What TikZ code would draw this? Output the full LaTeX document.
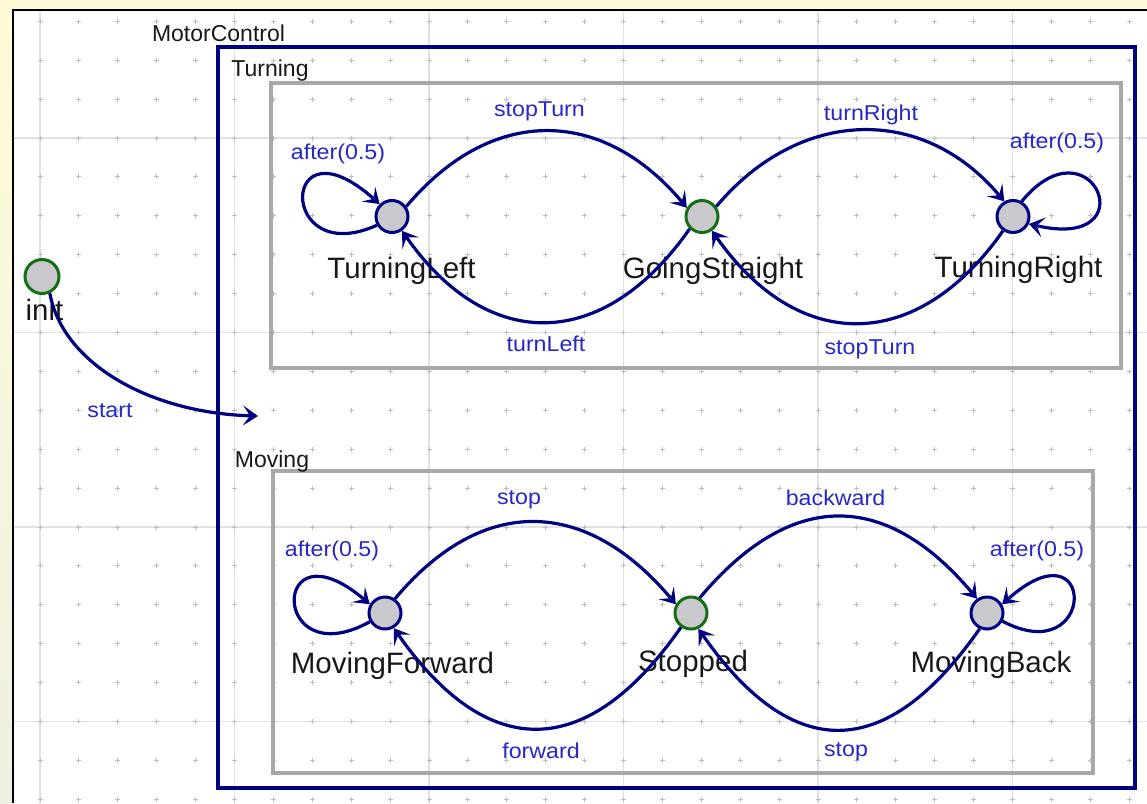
\documentclass[tikz,border=0pt]{standalone}
\usepackage{fontspec}
\setmainfont{Liberation Sans}
\newfontfamily\lblfont[FakeStretch=1.08]{Liberation Sans}
\usetikzlibrary{arrows.meta}
\definecolor{navy}{RGB}{0,0,128}
\definecolor{stfill}{RGB}{200,200,205}
\definecolor{igreen}{RGB}{20,110,20}
\definecolor{tblue}{RGB}{40,40,200}
\definecolor{stext}{RGB}{25,25,25}
\definecolor{boxgrey}{RGB}{168,168,168}
\definecolor{gridline}{RGB}{226,226,226}
\definecolor{crossc}{RGB}{190,190,190}
\definecolor{bgyellow}{RGB}{255,250,215}
\definecolor{bgbeige}{RGB}{240,240,226}
\tikzset{
  statelbl/.style={anchor=base, text=stext, font=\fontsize{29.5}{30}\selectfont, inner sep=0pt},
  trlbl/.style={anchor=base, text=tblue, font=\lblfont\fontsize{21.5}{22}\selectfont, inner sep=0pt},
  boxlbl/.style={anchor=base, text=stext, font=\fontsize{23}{24}\selectfont, inner sep=0pt},
  stnode/.style={circle, draw=navy, fill=stfill, line width=3pt, minimum size=32pt, inner sep=0pt},
  initnode/.style={stnode, draw=igreen},
  tr/.style={draw=navy, line width=3.2pt, -{Stealth[length=15pt,width=20pt,inset=7pt]}},
  outerbox/.style={draw=navy, line width=3.2pt},
  innerbox/.style={draw=boxgrey, line width=3.2pt},
  crossmark/.style={draw=crossc, line width=1pt},
  gridmajor/.style={draw=gridline, line width=1.2pt}
}
\begin{document}
\begin{tikzpicture}[x=1pt,y=1pt]
\useasboundingbox (0,0) rectangle (1147,-803);
% background
\fill[bgyellow] (0,0) rectangle (1147,-803);
\shade[top color=bgyellow, bottom color=bgbeige] (0,-10) rectangle (13,-803);
\fill[white] (13,-10) rectangle (1147,-803);
\draw[black, line width=2.2pt] (13,-803) -- (13,-10) -- (1147,-10);
% major grid lines
\foreach \m in {0,...,5} { \draw[gridmajor] ({40+194.5*\m},-11) -- ({40+194.5*\m},-803); }
\foreach \m in {0,...,3} { \draw[gridmajor] (14,{-(138+194.5*\m)}) -- (1147,{-(138+194.5*\m)}); }
% crosses
\foreach \i in {0,...,28} {
  \foreach \j in {0,...,20} {
    \draw[crossmark] ({40+38.9*\i-2.5},{-(21.3+38.9*\j)}) -- ++(5,0)
                     ({40+38.9*\i},{-(21.3+38.9*\j)-2.5}) -- ++(0,5);
  }
}
% containers
\draw[outerbox] (218,-47) rectangle (1135,-788);
\draw[innerbox] (271,-83) rectangle (1121,-368);
\draw[innerbox] (273,-471) rectangle (1093,-773);
\node[boxlbl] (lMotor) at (218.5,-41.7) {MotorControl};
\node[boxlbl] (lTurning) at (270,-76.7) {Turning};
\node[boxlbl] (lMoving) at (272,-467.3) {Moving};
% state labels
\node[statelbl] (lTL) at (401.5,-278) {TurningLeft};
\node[statelbl] (lGS) at (713,-278) {GoingStraight};
\node[statelbl] (lTR) at (1018.5,-277) {TurningRight};
\node[statelbl] (linit) at (44.5,-320) {init};
\node[statelbl] (lMF) at (392.5,-673) {MovingForward};
\node[statelbl] (lST) at (693,-671.7) {Stopped};
\node[statelbl] (lMB) at (991,-672) {MovingBack};
% transition labels
\node[trlbl] (tStopTurn1) at (539.5,-116) {stopTurn};
\node[trlbl] (tTurnLeft) at (546,-351.7) {turnLeft};
\node[trlbl] (tTurnRight) at (871,-120) {turnRight};
\node[trlbl] (tStopTurn2) at (870,-354) {stopTurn};
\node[trlbl] (tAfterTL) at (338,-159.3) {after(0.5)};
\node[trlbl] (tAfterTR) at (1057,-148.3) {after(0.5)};
\node[trlbl] (tStart) at (110,-417.3) {start};
\node[trlbl] (tStop1) at (519,-504) {stop};
\node[trlbl] (tAfterMF) at (332,-556) {after(0.5)};
\node[trlbl] (tBackward) at (835.5,-505) {backward};
\node[trlbl] (tAfterMB) at (1037,-556) {after(0.5)};
\node[trlbl] (tStop2) at (846,-756) {stop};
\node[trlbl] (tForward) at (541,-758.3) {forward};
% states
\node[stnode] (TL) at (392,-216.5) {};
\node[initnode] (GS) at (702,-216.5) {};
\node[stnode] (TR) at (1013,-216.5) {};
\node[initnode, minimum size=34pt] (init) at (42,-276.5) {};
\node[stnode] (MF) at (385,-613) {};
\node[initnode] (ST) at (691,-613) {};
\node[stnode] (MB) at (987,-613) {};
\coordinate (sEnd) at (258,-416);
% transitions
\draw[tr] (init.-65) .. controls +(13,-71) and +(-107,3) .. (sEnd);
\draw[tr] (TL.35) .. controls +(50:132) and +(130:132) .. (GS.150);
\draw[tr] (GS.225) .. controls +(235:150) and +(-55:150) .. (TL.-55);
\draw[tr] (GS.35) .. controls +(50:128) and +(130:128) .. (TR.120);
\draw[tr] (TR.235) .. controls +(235:150) and +(-55:150) .. (GS.-55);
\draw[tr] (TL.210) .. controls +(-100,-45) and +(-100,90) .. (TL.135);
\draw[tr] (TR.60) .. controls +(70,85) and +(120,-28) .. (TR.-25);
\draw[tr] (MF.55) .. controls +(50:138) and +(130:138) .. (ST.150);
\draw[tr] (ST.235) .. controls +(235:164) and +(-55:164) .. (MF.-60);
\draw[tr] (ST.60) .. controls +(50:142) and +(130:142) .. (MB.125);
\draw[tr] (MB.245) .. controls +(235:164) and +(-55:164) .. (ST.-65);
\draw[tr] (MF.210) .. controls +(-100,-55) and +(-100,85) .. (MF.150);
\draw[tr] (MB.-28) .. controls +(95,-50) and +(95,85) .. (MB.30);
\end{tikzpicture}
\end{document}
